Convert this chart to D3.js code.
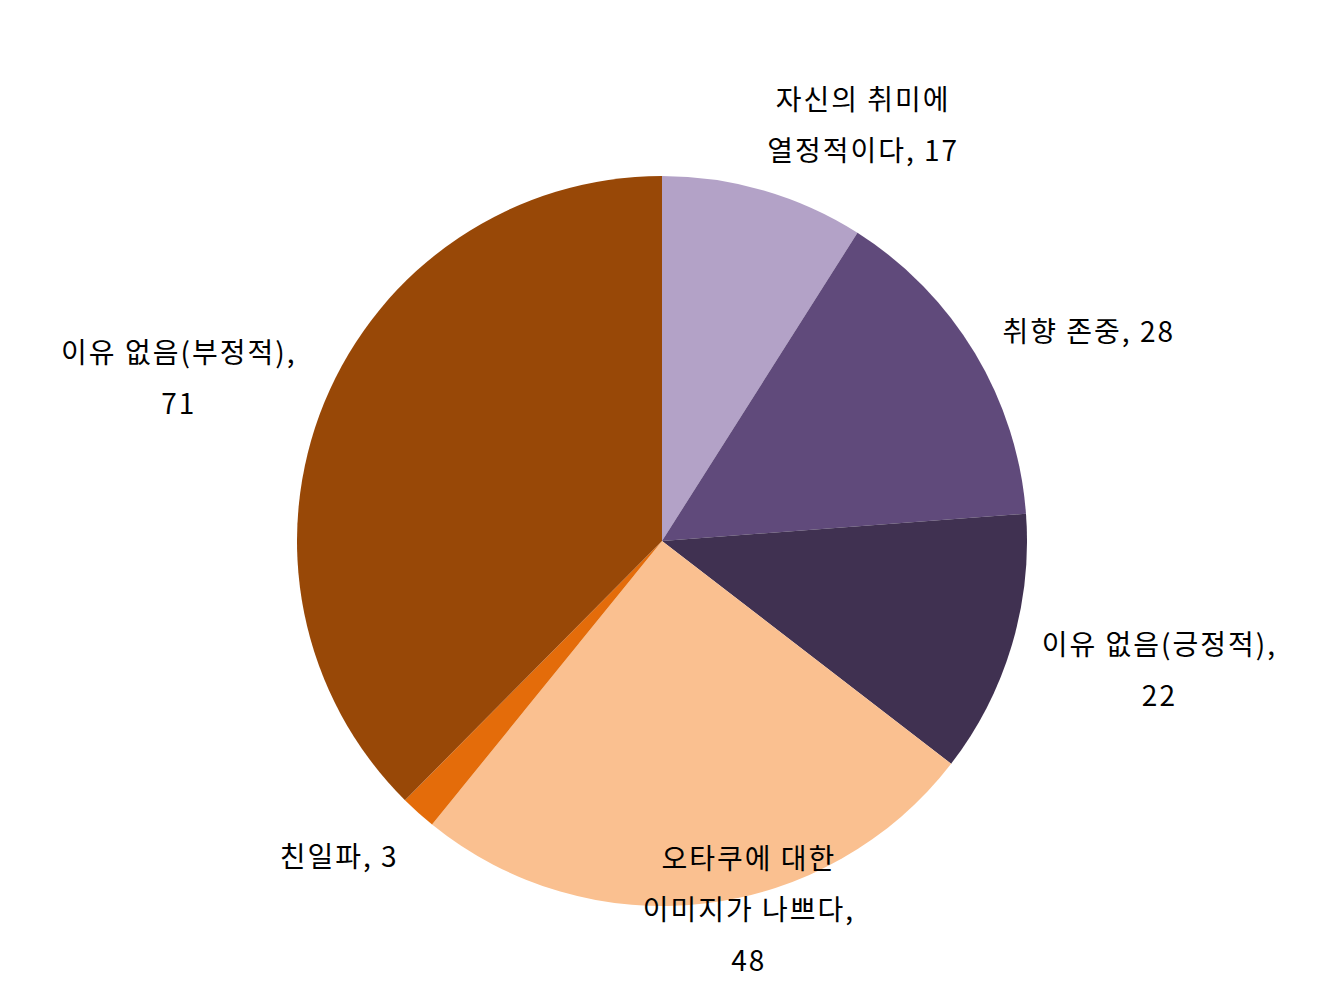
<!DOCTYPE html>
<html>
<head>
<meta charset="utf-8">
<script src="https://cdn.jsdelivr.net/npm/d3@7"></script>
<style>
  html, body { margin: 0; padding: 0; background: #fff; }
  svg text { font-family: "Noto Sans CJK KR", "Noto Sans", sans-serif; font-size: 28px; letter-spacing: 2px; fill: #000; }
</style>
</head>
<body>
<div id="chart"></div>
<script>
// 데이터 (시계 방향, 12시에서 시작)
const categories = [
  "자신의 취미에 열정적이다",
  "취향 존중",
  "이유 없음(긍정적)",
  "오타쿠에 대한 이미지가 나쁘다",
  "친일파",
  "이유 없음(부정적)"
];
const values = [17, 28, 22, 48, 3, 71];
// 라벨 줄바꿈 (그림에 보이는 그대로)
const labelLines = [
  ["자신의 취미에", "열정적이다, 17"],
  ["취향 존중, 28"],
  ["이유 없음(긍정적),", "22"],
  ["오타쿠에 대한", "이미지가 나쁘다,", "48"],
  ["친일파, 3"],
  ["이유 없음(부정적),", "71"]
];
const colors = ["#b3a2c7", "#604a7b", "#403151", "#fac090", "#e46c0a", "#984807"];

// 레이아웃
const width = 1324, height = 985;
const cx = 662, cy = 541, radius = 365;
const labelRadius = 395;
const lineHeight = 51;
// 라벨 위치 보정 (앵커 기준 dx, dy)
const labelNudge = [[90, -38], [87, -8], [118, 14], [40, -25], [-60, 20], [-119, -14]];

const svg = d3.select("#chart").append("svg")
  .attr("width", width)
  .attr("height", height);

const g = svg.append("g").attr("transform", `translate(${cx},${cy})`);

const pie = d3.pie().sort(null).value(d => d.value);
const data = pie(categories.map((c, i) => ({ name: c, value: values[i], i })));

const arc = d3.arc().innerRadius(0).outerRadius(radius);
const labelArc = d3.arc().innerRadius(labelRadius).outerRadius(labelRadius);

g.selectAll("path.slice")
  .data(data)
  .enter().append("path")
  .attr("class", "slice")
  .attr("d", arc)
  .attr("fill", d => colors[d.data.i]);

g.selectAll("text.label")
  .data(data)
  .enter().append("text")
  .attr("class", "label")
  .attr("text-anchor", "middle")
  .each(function(d) {
    const [ax, ay] = labelArc.centroid(d);
    const [dx, dy] = labelNudge[d.data.i];
    const lines = labelLines[d.data.i];
    const x = ax + dx + 1, y = ay + dy;
    const top = y - (lines.length - 1) * lineHeight / 2;
    d3.select(this).selectAll("tspan")
      .data(lines)
      .enter().append("tspan")
      .attr("x", x)
      .attr("y", (l, k) => top + k * lineHeight)
      .attr("dominant-baseline", "central")
      .text(l => l);
  });
</script>
</body>
</html>
